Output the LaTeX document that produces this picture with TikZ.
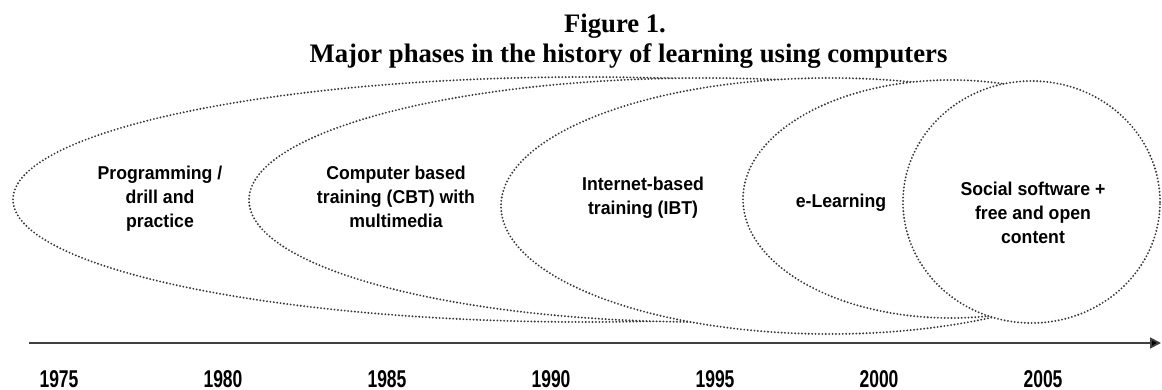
\documentclass[tikz,border=0pt]{standalone}
\usepackage{fontspec}
\setmainfont{Liberation Serif}
\newfontfamily\phasefont[FakeStretch=0.95]{Liberation Sans}
\newfontfamily\yearfont[FakeStretch=0.72]{Liberation Sans}
\usepackage{tikz}
\usetikzlibrary{arrows.meta}

\begin{document}
\begin{tikzpicture}[x=1pt,y=-1pt,
  phase/.style={draw=black!78,fill=white,line width=2.1pt,line cap=round,dash pattern=on 0pt off 3.4pt},
  phasetext/.style={align=center,inner sep=0pt,anchor=north,font=\phasefont\bfseries\fontsize{18.6}{24}\selectfont},
  yeartext/.style={inner sep=0pt,anchor=base,font=\yearfont\bfseries\fontsize{24.3}{28}\selectfont},
  titletext/.style={inner sep=0pt,anchor=base,font=\bfseries\fontsize{26.7}{32}\selectfont},
  timeaxis/.style={draw=black!75,line width=1.8pt,-{Triangle[length=11pt,width=11pt,fill=black]}}]
\useasboundingbox (0,0) rectangle (1162,390);
% y runs downwards here, so coordinates are pixels of the page
\node[titletext] (fignum) at (615,33) {Figure 1.};
\node[titletext] (figtitle) at (628.5,63) {Major phases in the history of learning using computers};
% oldest phase first, each later phase is filled white and hides the part of the older ones inside it
\draw[phase] (586,199.5) ellipse [x radius=573pt, y radius=122.5pt];
\draw[phase] (704,200) ellipse [x radius=455pt, y radius=122pt];
\draw[phase] (830,206) ellipse [x radius=329pt, y radius=128pt];
\draw[phase] (951,199) ellipse [x radius=208pt, y radius=119pt];
\draw[phase] (1031.5,202) ellipse [x radius=128.5pt, y radius=121pt];
\node[phasetext] (drill) at (160,166) {Programming /\\drill and\\practice};
\node[phasetext] (cbt) at (396,166) {Computer based\\training (CBT) with\\multimedia};
\node[phasetext] (ibt) at (643,177) {Internet-based\\training (IBT)};
\node[phasetext] (elearn) at (841,194) {e-Learning};
\node[phasetext] (social) at (1033,182) {Social software +\\free and open\\content};
% time line
\coordinate (axstart) at (29,343);
\coordinate (axend) at (1161,343);
\draw[timeaxis] (axstart) -- (axend);
\foreach \yr [count=\i from 0] in {1975,1980,1985,1990,1995,2000,2005}
  \node[yeartext] (year\yr) at (59+164*\i,387) {\yr};
\end{tikzpicture}
\end{document}
